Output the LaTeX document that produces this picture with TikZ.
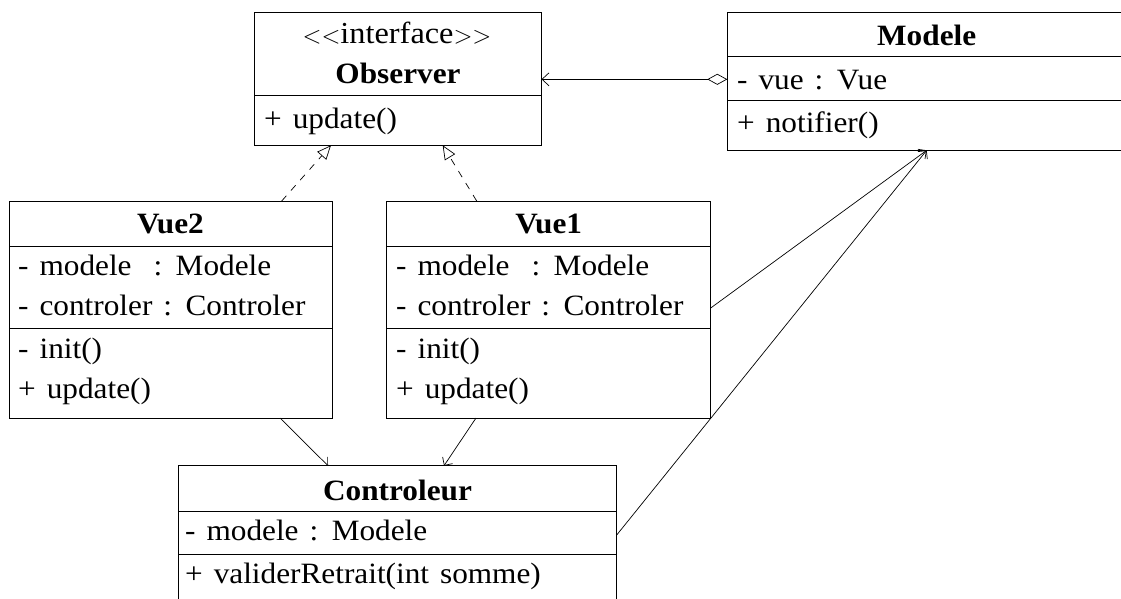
\documentclass[tikz,border=0pt]{standalone}
\usepackage{fontspec}
\setmainfont{Liberation Serif}[FakeStretch=1.06, WordSpace=1.4]
\usetikzlibrary{arrows.meta,calc}

\tikzset{
  classbox/.style={draw, line width=0.9pt, inner sep=0pt, outer sep=0pt, anchor=north west},
  sepline/.style={line width=0.9pt},
  member/.style={anchor=base west, inner sep=0pt},
  stereo/.style={anchor=base, inner sep=0pt, font=\fontsize{30.5}{34}\selectfont},
  title/.style={anchor=base, inner sep=0pt, font=\fontsize{29.5}{34}\selectfont\bfseries},
  assoc/.style={line width=0.7pt, -{Straight Barb[length=6pt,width=12pt]}},
  aggreg/.style={line width=0.7pt, {Diamond[open,length=20pt,width=11pt]}-{Straight Barb[length=7pt,width=13pt]}},
  realize/.style={line width=0.7pt, dash pattern=on 7pt off 7pt, -{Triangle[open,length=14pt,width=12pt]}}
}

\begin{document}
\begin{tikzpicture}[x=1pt, y=-1pt, font=\fontsize{29.5}{34}\selectfont]
\useasboundingbox (0,0) rectangle (1121,598);
\clip (0,0) rectangle (1121,598);

% Observer interface
\node[classbox, minimum width=287pt, minimum height=133pt] (obs) at (254.5,12.3) {};
\draw[sepline] (254.5,95) -- (541.5,95);
\node[stereo] (obsst) at (397,43) {$<<$interface$>>$};
\node[title] (obsname) at (398,83) {Observer};
\node[member] (obsop) at (264,128) {+ update()};

% Modele
\node[classbox, minimum width=399pt, minimum height=138pt] (mod) at (727.3,12.3) {};
\draw[sepline] (727.3,56.7) -- (1126.3,56.7);
\draw[sepline] (727.3,100) -- (1126.3,100);
\node[title] (modname) at (926.7,45) {Modele};
\node[member] (modat) at (737,89) {- vue : Vue};
\node[member] (modop) at (737,132) {+ notifier()};

% Vue2
\node[classbox, minimum width=323pt, minimum height=217pt] (vue2) at (9,201) {};
\draw[sepline] (9,246) -- (332,246);
\draw[sepline] (9,328.3) -- (332,328.3);
\node[title] (vue2name) at (170.5,233) {Vue2};
\node[member] (vue2a) at (18,275) {- modele \ : Modele};
\node[member] (vue2b) at (18,315) {- controler : Controler};
\node[member] (vue2c) at (18,358) {- init()};
\node[member] (vue2d) at (18,398) {+ update()};

% Vue1
\node[classbox, minimum width=324pt, minimum height=217pt] (vue1) at (386.7,201) {};
\draw[sepline] (386.7,246) -- (710.7,246);
\draw[sepline] (386.7,328.3) -- (710.7,328.3);
\node[title] (vue1name) at (548.7,233) {Vue1};
\node[member] (vue1a) at (396,275) {- modele \ : Modele};
\node[member] (vue1b) at (396,315) {- controler : Controler};
\node[member] (vue1c) at (396,358) {- init()};
\node[member] (vue1d) at (396,398) {+ update()};

% Controleur
\node[classbox, minimum width=438.4pt, minimum height=150pt] (ctl) at (178.3,465.7) {};
\draw[sepline] (178.3,511) -- (616.7,511);
\draw[sepline] (178.3,554) -- (616.7,554);
\node[title] (ctlname) at (397.5,500) {Controleur};
\node[member] (ctla) at (185,540) {- modele : Modele};
\node[member] (ctlb) at (185,583) {+ validerRetrait(int somme)};

% Relations
\draw[aggreg] ($(mod.north west)+(0,67)$) -- ($(obs.north east)+(0,67)$);
\draw[realize] ($(vue2.north west)+(272.7,0)$) -- ($(obs.south west)+(76.5,0)$);
\draw[realize] ($(vue1.north west)+(90,0)$) -- ($(obs.south west)+(188.2,0)$);
\draw[assoc] ($(vue2.south west)+(271,0)$) -- ($(ctl.north west)+(149.7,0)$);
\draw[assoc] ($(vue1.south west)+(89.3,0)$) -- ($(ctl.north west)+(265.7,0)$);
\draw[assoc] ($(vue1.north east)+(0,107)$) -- ($(mod.south west)+(199.4,0)$);
\draw[assoc] ($(ctl.north east)+(0,69.3)$) -- ($(mod.south west)+(199.4,0)$);
\end{tikzpicture}
\end{document}
